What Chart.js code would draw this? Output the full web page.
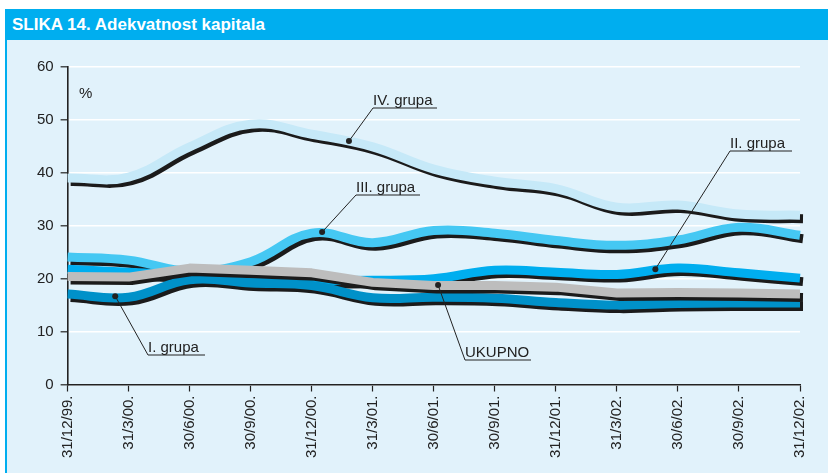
<!DOCTYPE html>
<html><head><meta charset="utf-8">
<script src="https://cdn.jsdelivr.net/npm/chart.js@4.4.1/dist/chart.umd.min.js"></script>
<style>
html,body{margin:0;padding:0;background:#fff;}
#wrap{position:relative;width:828px;height:473px;overflow:hidden;}
#bar{position:absolute;left:5px;top:9px;width:823px;height:31px;background:#00AEEF;color:#fff;font:bold 17px "Liberation Sans Narrow","Liberation Sans",Arial,sans-serif;line-height:31px;padding-left:7px;box-sizing:border-box;}
#panel{position:absolute;left:5px;top:40px;width:823px;height:433px;background:#E1F2FB;border-left:2px solid #00AEEF;box-sizing:border-box;}
#cw{position:absolute;left:0;top:0;width:828px;height:473px;}
</style></head>
<body>
<div id="wrap">
  <div id="bar">SLIKA 14. Adekvatnost kapitala</div>
  <div id="panel"></div>
  <div id="cw"><canvas id="c"></canvas></div>
</div>
<script>
const categories = ['31/12/99.','31/3/00.','30/6/00.','30/9/00.','31/12/00.','31/3/01.','30/6/01.','30/9/01.','31/12/01.','31/3/02.','30/6/02.','30/9/02.','31/12/02.'];
const seriesNames = ['UKUPNO','I. grupa','II. grupa','III. grupa','IV. grupa'];
const ukupno  = [20.4, 20.3, 22.0, 21.6, 21.1, 19.3, 18.7, 18.7, 18.4, 17.3, 17.4, 17.3, 17.1];
const grupaI  = [17.1, 16.5, 19.8, 19.2, 18.7, 16.4, 16.5, 16.3, 15.5, 15.0, 15.3, 15.4, 15.4];
const grupaII = [21.8, 21.2, 20.6, 19.9, 19.7, 19.7, 20.0, 21.6, 21.2, 20.8, 22.0, 21.1, 20.1];
const grupaIII= [24.1, 23.5, 21.4, 23.2, 28.6, 26.8, 29.1, 28.6, 27.2, 26.3, 27.3, 29.7, 28.2];
const grupaIV = [39.0, 39.2, 44.9, 49.2, 47.3, 44.9, 40.7, 38.4, 37.0, 33.5, 33.9, 32.2, 32.0];
const yTicks  = [0, 10, 20, 30, 40, 50, 60];

// label anchors: [category index (fractional), value]
const anchorIdx = [6.07, 0.78, 9.63, 4.17, 4.61];
const anchorVal = [18.8, 16.7, 21.8, 28.8, 46.0];

const FONT = '"Liberation Sans", Arial, Helvetica, sans-serif';
const colors = ['#BDBDBD', '#0091C9', '#00AEEF', '#45C8F3', '#C6E9F8'];
const tensions = [0, 0.4, 0.4, 0.4, 0.4];
const values = [ukupno, grupaI, grupaII, grupaIII, grupaIV];

// label boxes (pixels): text left, underline y, underline right
const labelPos = [
  {x: 465, y: 360, r: 531},
  {x: 148, y: 355, r: 205},
  {x: 730, y: 151, r: 792},
  {x: 356, y: 195, r: 420},
  {x: 373, y: 108, r: 437}
];

const shadowPlugin = {
  id: 'shadow',
  beforeDatasetDraw(chart) {
    const ctx = chart.ctx;
    ctx.save();
    ctx.shadowColor = '#1b1b1b';
    ctx.shadowBlur = 0;
    ctx.shadowOffsetX = 3;
    ctx.shadowOffsetY = 3.5;
  },
  afterDatasetDraw(chart) { chart.ctx.restore(); }
};

const annotPlugin = {
  id: 'annot',
  afterDatasetsDraw(chart) {
    const ctx = chart.ctx, xs = chart.scales.x, ys = chart.scales.y;
    ctx.save();
    ctx.fillStyle = '#222';
    ctx.font = '15px ' + FONT;
    ctx.textBaseline = 'alphabetic';
    ctx.fillText('%', 79, 98);
    seriesNames.forEach((name, i) => {
      const px = xs.getPixelForValue(anchorIdx[i]);
      const py = ys.getPixelForValue(anchorVal[i]);
      const L = labelPos[i];
      ctx.strokeStyle = '#222';
      ctx.lineWidth = 1;
      ctx.beginPath();
      ctx.moveTo(px, py);
      ctx.lineTo(L.x, L.y);
      ctx.lineTo(L.r, L.y);
      ctx.stroke();
      ctx.beginPath();
      ctx.arc(px, py, 3, 0, Math.PI * 2);
      ctx.fill();
      ctx.fillText(name, L.x, L.y - 3);
    });
    ctx.restore();
  }
};

new Chart(document.getElementById('c'), {
  type: 'line',
  data: {
    labels: categories,
    datasets: values.map((v, i) => ({
      label: seriesNames[i],
      data: v,
      borderColor: colors[i],
      borderWidth: 9,
      tension: tensions[i],
      pointRadius: 0,
      fill: false,
      clip: false,
      borderCapStyle: 'butt',
      borderJoinStyle: 'round'
    }))
  },
  options: {
    responsive: true,
    maintainAspectRatio: false,
    animation: false,
    devicePixelRatio: 1,
    layout: {padding: {left: 0, top: 67, right: 28, bottom: 0}},
    plugins: {legend: {display: false}, tooltip: {enabled: false}, title: {display: false}},
    scales: {
      x: {
        grid: {display: true, drawOnChartArea: false, drawTicks: true, tickLength: 7, tickColor: '#222', tickWidth: 1.2},
        border: {display: true, color: '#222', width: 1.6},
        ticks: {minRotation: 90, maxRotation: 90, autoSkip: false, color: '#222', padding: 4, font: {family: FONT, size: 15}},
        afterFit: s => { s.height = 88.5; }
      },
      y: {
        min: 0, max: 60,
        afterBuildTicks: s => { s.ticks = yTicks.map(v => ({value: v})); },
        grid: {color: '#ffffff', lineWidth: 1.6, tickColor: '#222', tickLength: 7, tickWidth: 1.2},
        border: {display: true, color: '#222', width: 1.6},
        ticks: {color: '#222', padding: 7, font: {family: FONT, size: 15}},
        afterFit: s => { s.width = 67.6; }
      }
    }
  },
  plugins: [shadowPlugin, annotPlugin]
});
</script>
</body></html>
